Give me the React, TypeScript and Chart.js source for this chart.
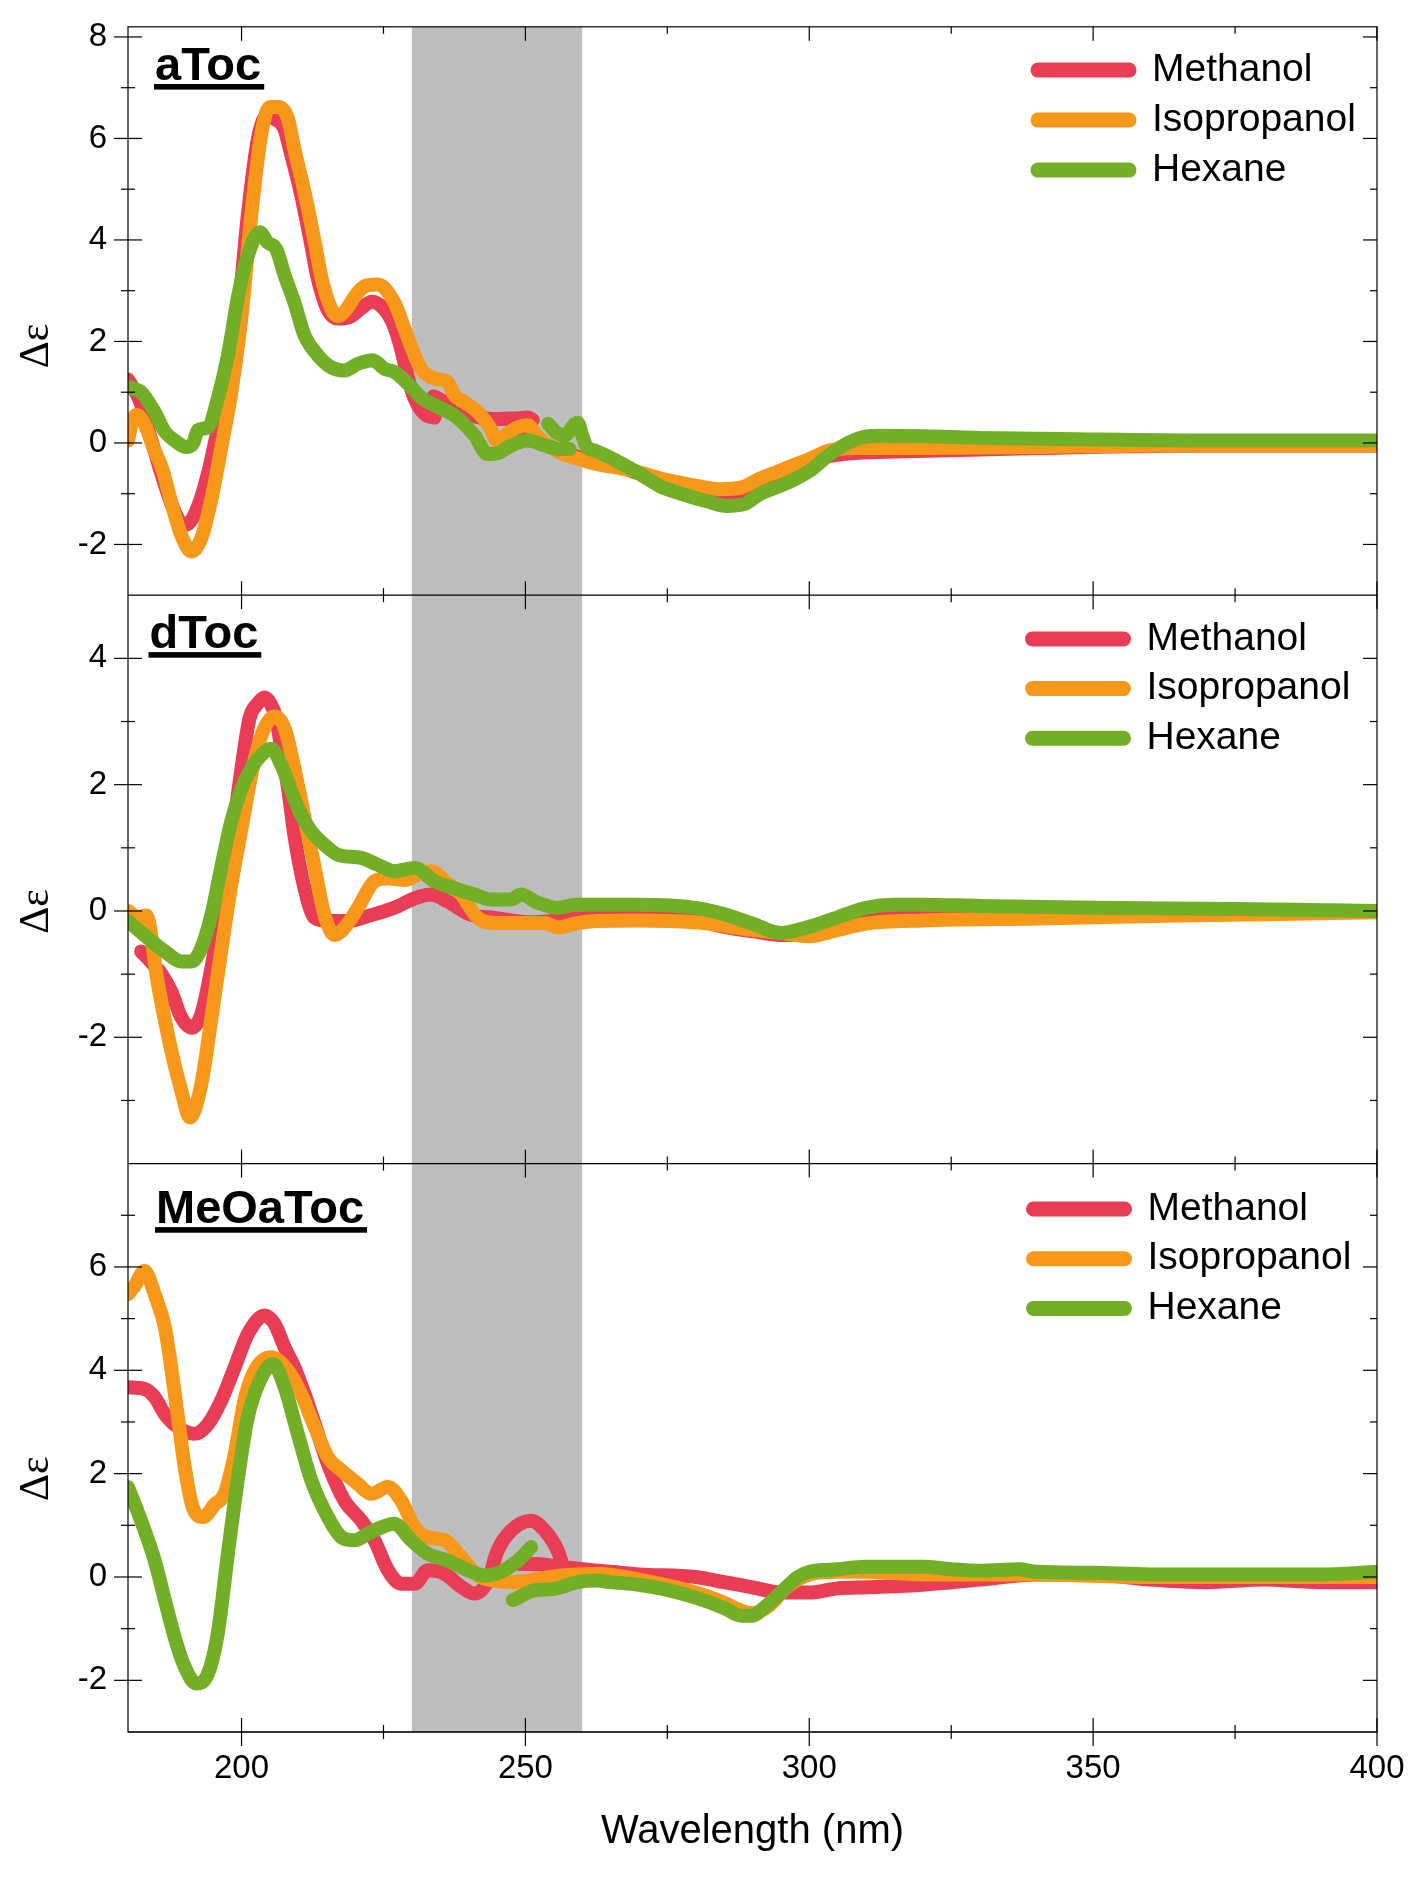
import React, { useEffect, useRef } from 'react';
import { Chart, registerables } from 'chart.js';

Chart.register(...registerables);

// ---------------- axes / labels ----------------
const xMin = 180;
const xMax = 400;
const xMajorTicks = [200, 250, 300, 350, 400];
const xMinorTicks = [225, 275, 325, 375];
const shadeRange = [230, 260];
const xTitle = 'Wavelength (nm)';
const yTitle = 'Δε';

const panelNames = ['aToc', 'dToc', 'MeOaToc'];
const panelAxisIds = ['yA', 'yD', 'yM'];
const panelYMin = [-3, -4, -3];
const panelYMax = [8.2, 5, 8];
const panelMajorTicks = [[8, 6, 4, 2, 0, -2], [4, 2, 0, -2], [6, 4, 2, 0, -2]];
const panelMinorTicks = [[7, 5, 3, 1, -1], [3, 1, -1, -3], [7, 5, 3, 1, -1]];

const solvents = ['Methanol', 'Isopropanol', 'Hexane'];
const solventColors = ['#E83D55', '#F7981A', '#72AF26'];

// ---------------- data: [wavelength nm, Δε] ----------------
// aToc
const aTocMethanolA = [[180,1.25],[182,0.85],[184,0.1],[186,-0.65],[188,-1.3],[189.8,-1.62],[191,-1.55],[192.5,-1.2],[194.2,-0.55],[196,0.35],[197.6,1.0],[199.4,2.5],[201.1,4.48],[202.9,6.0],[204.5,6.45],[205.6,6.4],[207.5,6.2],[208.6,5.75],[210.4,4.94],[212.2,3.95],[213.3,3.3],[215.1,2.64],[217,2.45],[219,2.48],[221,2.65],[223,2.78],[225,2.65],[226.5,2.4],[228,1.9],[229.5,1.2],[231,0.75],[232.5,0.55],[234,0.5]];
const aTocMethanolB = [[233.8,0.92],[236,0.8],[239,0.62],[242,0.5],[245,0.47],[248,0.48],[250.5,0.5],[251.3,0.45]];
const aTocMethanolC = [[248.5,0.2],[252,0.05],[256,-0.15],[260,-0.3],[262,-0.35],[266,-0.45],[270,-0.6],[274,-0.72],[279,-0.88],[283,-0.98],[287,-1.0],[290,-0.9],[293,-0.75],[296,-0.58],[299,-0.42],[302,-0.3],[306,-0.22],[312,-0.18],[322,-0.15],[340,-0.1],[370,-0.05],[400,-0.05]];
const aTocIsopropanol = [[180,0.05],[180.8,0.45],[181.6,0.55],[183,0.35],[184.5,-0.1],[186,-0.5],[187.6,-1.16],[189.4,-1.82],[191.2,-2.14],[192.9,-1.88],[194.7,-1.1],[196.4,-0.11],[198.2,1.0],[200,2.5],[201.7,4.48],[203.5,6.1],[205,6.62],[206.5,6.62],[208.2,6.38],[209.3,5.79],[211.1,4.94],[212.9,3.95],[214,3.3],[215.8,2.64],[217,2.5],[218.1,2.58],[220.5,2.97],[222,3.1],[224,3.12],[226.9,2.77],[228.7,2.25],[230.5,1.72],[231.6,1.46],[234,1.27],[236.3,1.2],[237.5,0.94],[239.3,0.8],[241.6,0.61],[243.5,0.35],[245.2,0.02],[246.5,0.15],[248.5,0.3],[250.4,0.35],[252,0.15],[254,-0.05],[256.3,-0.2],[259,-0.3],[262.7,-0.42],[266,-0.48],[270,-0.58],[273.7,-0.7],[279,-0.82],[284.3,-0.91],[288,-0.88],[291.4,-0.7],[294.3,-0.57],[297.2,-0.44],[300.2,-0.31],[303.1,-0.16],[306,-0.11],[309,-0.1],[320,-0.1],[340,-0.08],[360,-0.05],[400,-0.05]];
const aTocHexaneA = [[180,1.1],[182.3,1.0],[184.7,0.61],[186.5,0.22],[188.2,0.05],[190.3,-0.08],[191.5,0.0],[192.3,0.25],[194.1,0.31],[195.8,0.87],[197.6,1.72],[199.4,2.9],[201.1,3.69],[203.2,4.15],[204.6,3.95],[206.1,3.82],[207.6,3.3],[209.3,2.77],[211.1,2.12],[213.5,1.72],[215.8,1.49],[218.1,1.43],[220.5,1.56],[223.1,1.63],[225.2,1.46],[226.9,1.4],[229.3,1.17],[231.6,0.9],[234.6,0.71],[237.5,0.54],[241,0.15],[243.4,-0.22],[245.1,-0.2],[247.5,-0.05],[250.4,0.05],[253.4,-0.05],[256,-0.12],[257.8,-0.12]];
const aTocHexaneB = [[254,0.38],[255.5,0.2],[257,0.15],[258.5,0.35],[259.2,0.4],[260,0.15],[260.8,-0.08],[262,-0.14],[266,-0.35],[270,-0.6],[273.7,-0.85],[278,-1.02],[282,-1.15],[285.5,-1.24],[288.4,-1.21],[291.4,-1.0],[294.3,-0.87],[297.2,-0.73],[300.2,-0.54],[303.1,-0.27],[306,-0.05],[309,0.1],[312,0.14],[320,0.13],[330,0.1],[344,0.08],[370,0.05],[400,0.05]];

// dToc
const dTocMethanol = [[182.3,-0.64],[184,-0.8],[185.9,-1.0],[187.6,-1.27],[189.4,-1.69],[191.2,-1.85],[192.9,-1.64],[194.7,-0.9],[196.4,0.05],[198.2,1.1],[200,2.26],[201.4,3.05],[203,3.3],[204,3.38],[205,3.3],[206.1,3.05],[207,2.57],[208.2,1.94],[209.3,1.2],[211.1,0.36],[212.9,-0.11],[215.2,-0.16],[218.7,-0.16],[222.3,-0.08],[226.9,0.05],[230.5,0.2],[233.4,0.26],[236.3,0.15],[240.4,-0.06],[244.6,-0.11],[251,-0.18],[258.6,-0.12],[262,-0.1],[270,-0.1],[280,-0.15],[285,-0.25],[290,-0.32],[295,-0.38],[300,-0.35],[305,-0.2],[310,-0.1],[320,-0.06],[350,-0.05],[380,-0.03],[400,0.0]];
const dTocIsopropanol = [[180,0.0],[181.8,-0.1],[183.2,-0.07],[185.3,-1.17],[187.6,-2.2],[189.4,-2.85],[190.9,-3.27],[192.9,-2.75],[194.7,-1.69],[196.4,-0.64],[198.2,0.42],[200,1.31],[201.7,2.15],[203.5,2.78],[205.8,3.08],[207.6,2.89],[209.3,2.26],[211.1,1.47],[212.9,0.68],[214.6,-0.06],[216.4,-0.38],[218.1,-0.27],[220.5,0.05],[223.4,0.47],[225.8,0.52],[228.7,0.49],[231.6,0.6],[233.5,0.63],[235.8,0.47],[238.7,0.26],[241.6,-0.11],[244.6,-0.19],[250,-0.19],[253.4,-0.19],[255.7,-0.26],[259.2,-0.19],[262.7,-0.16],[270,-0.15],[280,-0.18],[290,-0.3],[295,-0.35],[300,-0.4],[305,-0.3],[310,-0.2],[320,-0.15],[340,-0.12],[360,-0.08],[380,-0.05],[400,-0.02]];
const dTocHexane = [[180,-0.16],[183.5,-0.43],[186.5,-0.64],[189.4,-0.8],[191.2,-0.8],[192.9,-0.59],[194.7,-0.06],[196.4,0.68],[198.2,1.42],[200,1.94],[201.7,2.26],[203.5,2.47],[205.2,2.57],[207,2.31],[208.8,1.89],[210.5,1.52],[212.3,1.26],[214.6,1.05],[217,0.89],[221.1,0.84],[224,0.73],[226.9,0.63],[230.5,0.68],[234,0.47],[237.5,0.36],[241,0.26],[244,0.18],[247.5,0.18],[249.2,0.26],[252.2,0.13],[255.7,0.05],[259,0.1],[263,0.1],[270,0.1],[280,0.05],[285,-0.05],[290,-0.2],[295,-0.35],[298,-0.3],[300,-0.25],[305,-0.1],[310,0.05],[315,0.1],[320,0.1],[330,0.08],[350,0.05],[375,0.03],[400,0.0]];

// MeOaToc
const meoMethanolA = [[180,3.67],[182.9,3.64],[184.7,3.48],[186.5,3.15],[188.8,2.9],[191.7,2.77],[194.1,2.96],[196.4,3.41],[198.8,4.06],[201.1,4.7],[204.1,5.06],[205.8,4.9],[207.6,4.44],[209.3,4.06],[211.1,3.54],[212.9,2.96],[215.2,2.19],[218.1,1.48],[221.1,1.09],[223.4,0.71],[225.8,0.13],[228.1,-0.13],[230.5,-0.13],[232.8,0.13],[235.8,0.06],[238.7,-0.19],[241,-0.32],[243.4,-0.07],[245.1,0.51],[247.5,0.9],[251,1.09],[253.4,0.9],[255.7,0.51],[256.3,0.32]];
const meoMethanolB = [[249,0.25],[252,0.25],[256,0.2],[260,0.15],[265,0.1],[270,0.05],[280,0.0],[285,-0.1],[290,-0.2],[295,-0.3],[300,-0.3],[305,-0.22],[310,-0.2],[320,-0.15],[330,-0.05],[340,0.05],[350,0.05],[360,-0.05],[370,-0.1],[380,-0.05],[390,-0.1],[400,-0.1]];
const meoIsopropanol = [[180,5.47],[181.2,5.64],[182.9,5.92],[184.7,5.47],[186.5,4.83],[187.6,4.06],[188.8,3.09],[190,2.12],[191.4,1.35],[193.2,1.16],[195.3,1.41],[197,1.61],[198.8,2.38],[200.5,3.41],[202.3,3.99],[205.2,4.25],[208.2,3.99],[210.5,3.54],[212.9,2.9],[215.2,2.32],[217.6,2.06],[220.5,1.8],[222.8,1.61],[225.8,1.74],[228.1,1.48],[230.5,0.96],[232.8,0.77],[235.8,0.71],[238.7,0.38],[241.6,0.03],[244.6,-0.07],[247.5,-0.1],[250.4,-0.07],[256.3,0.03],[262.7,0.06],[270,-0.05],[280,-0.3],[285,-0.5],[288,-0.65],[290,-0.7],[293,-0.55],[296,-0.2],[300,0.05],[305,0.1],[310,0.1],[320,0.05],[340,0.05],[360,0.0],[380,0.0],[400,0.0]];
const meoHexaneA = [[180,1.74],[182.3,1.09],[184.7,0.32],[186.5,-0.45],[188.2,-1.16],[190,-1.74],[192,-2.06],[194.1,-1.87],[195.8,-1.1],[197.6,0.45],[199.4,1.93],[201.1,3.09],[203.5,3.86],[205.5,4.12],[207.6,3.67],[209.9,2.77],[212.3,1.87],[215.2,1.16],[217.6,0.77],[219.9,0.71],[222.3,0.84],[224.6,0.96],[226.9,1.03],[229.9,0.71],[232.8,0.45],[236.3,0.32],[239.9,0.13],[242.8,0.03],[245.7,0.1],[248.7,0.32],[251,0.58]];
const meoHexaneB = [[247.8,-0.45],[251.6,-0.26],[255.1,-0.23],[259.2,-0.1],[262.7,-0.07],[265,-0.1],[270,-0.15],[275,-0.25],[280,-0.4],[285,-0.6],[288,-0.75],[290,-0.75],[292,-0.6],[295,-0.3],[298,0.0],[300,0.1],[305,0.15],[310,0.2],[315,0.2],[320,0.2],[325,0.15],[330,0.12],[337,0.15],[340,0.1],[350,0.08],[360,0.05],[370,0.05],[380,0.05],[390,0.05],[400,0.1]];

// which panel / solvent each stretch of data belongs to
const seriesList = [
  { panel: 0, solvent: 0, points: aTocMethanolA },
  { panel: 0, solvent: 0, points: aTocMethanolB },
  { panel: 0, solvent: 0, points: aTocMethanolC },
  { panel: 0, solvent: 1, points: aTocIsopropanol },
  { panel: 0, solvent: 2, points: aTocHexaneA },
  { panel: 0, solvent: 2, points: aTocHexaneB },
  { panel: 1, solvent: 0, points: dTocMethanol },
  { panel: 1, solvent: 1, points: dTocIsopropanol },
  { panel: 1, solvent: 2, points: dTocHexane },
  { panel: 2, solvent: 0, points: meoMethanolA },
  { panel: 2, solvent: 0, points: meoMethanolB },
  { panel: 2, solvent: 1, points: meoIsopropanol },
  { panel: 2, solvent: 2, points: meoHexaneA },
  { panel: 2, solvent: 2, points: meoHexaneB },
];

// ---------------- layout / style ----------------
const W = 1419;
const H = 1881;
const PLOT_LEFT = 128;
const PAD_RIGHT = 42;
const PAD_TOP = 24;
const X_AXIS_H = 149;
const FONT = '"Liberation Sans", Arial, Helvetica, sans-serif';
const SERIF = '"Liberation Serif", "Times New Roman", serif';
const LINE_W = 14;
const MAJOR_LEN = 14;
const MINOR_LEN = 7;

const labelStyle = [
  { x: 155, baseFromTop: 52.7 },
  { x: 149.5, baseFromTop: 52.4 },
  { x: 156, baseFromTop: 59 },
];
const legendStyle = [
  { textX: 1152, row0FromTop: 43.3, gap: 50 },
  { textX: 1146.5, row0FromTop: 43.7, gap: 49.7 },
  { textX: 1147.5, row0FromTop: 45.4, gap: 49.7 },
];
const yTitleOffset = [35, 32, 31];

const decorPlugin = {
  id: 'decor',
  beforeDatasetsDraw(chart: any) {
    const { ctx, chartArea: a, scales } = chart;
    const xs = scales.x;
    const x0 = xs.getPixelForValue(shadeRange[0]);
    const x1 = xs.getPixelForValue(shadeRange[1]);
    ctx.save();
    ctx.fillStyle = '#BEBEBE';
    ctx.fillRect(x0, a.top, x1 - x0, a.bottom - a.top);
    ctx.restore();
  },
  afterDraw(chart: any) {
    const { ctx, chartArea: a, scales } = chart;
    const xs = scales.x;
    const L = a.left;
    const R = a.right;
    const seg = (x1: number, y1: number, x2: number, y2: number) => {
      ctx.beginPath();
      ctx.moveTo(x1, y1);
      ctx.lineTo(x2, y2);
      ctx.stroke();
    };
    ctx.save();
    ctx.strokeStyle = '#000';
    ctx.lineWidth = 1.2;
    ctx.lineCap = 'butt';
    ctx.strokeRect(L, a.top, R - L, a.bottom - a.top);

    panelAxisIds.forEach((id, i) => {
      const s = scales[id];
      seg(L, s.bottom, R, s.bottom);
      panelMajorTicks[i].forEach((v) => {
        const y = s.getPixelForValue(v);
        seg(L - MAJOR_LEN, y, L + MAJOR_LEN, y);
        seg(R - MAJOR_LEN, y, R, y);
      });
      panelMinorTicks[i].forEach((v) => {
        const y = s.getPixelForValue(v);
        seg(L - MINOR_LEN, y, L + MINOR_LEN, y);
        seg(R - MINOR_LEN, y, R, y);
      });
      const yTop = s.top;
      const yBot = s.bottom;
      xMajorTicks.forEach((v) => {
        const x = xs.getPixelForValue(v);
        if (i === 0) seg(x, yTop, x, yTop + MAJOR_LEN);
        seg(x, yBot - MAJOR_LEN, x, yBot + MAJOR_LEN);
      });
      xMinorTicks.forEach((v) => {
        const x = xs.getPixelForValue(v);
        if (i === 0) seg(x, yTop, x, yTop + MINOR_LEN);
        seg(x, yBot - MINOR_LEN, x, yBot + MINOR_LEN);
      });

      // y title
      ctx.save();
      ctx.fillStyle = '#000';
      ctx.font = `42px ${SERIF}`;
      ctx.textAlign = 'center';
      ctx.textBaseline = 'middle';
      ctx.translate(37, (s.top + s.bottom) / 2 + yTitleOffset[i]);
      ctx.rotate(-Math.PI / 2);
      ctx.fillText(yTitle, 0, 0);
      ctx.restore();

      // panel name
      const ls = labelStyle[i];
      const base = s.top + ls.baseFromTop;
      ctx.fillStyle = '#000';
      ctx.font = `bold 47px ${FONT}`;
      ctx.textAlign = 'left';
      ctx.textBaseline = 'alphabetic';
      ctx.fillText(panelNames[i], ls.x, base);
      const tw = ctx.measureText(panelNames[i]).width;
      ctx.fillRect(ls.x - 1, base + 4.5, tw + 4, 5.6);

      // legend
      const lg = legendStyle[i];
      solvents.forEach((name, k) => {
        const y = s.top + lg.row0FromTop + k * lg.gap;
        ctx.save();
        ctx.strokeStyle = solventColors[k];
        ctx.lineWidth = 15;
        ctx.lineCap = 'round';
        seg(lg.textX - 114, y, lg.textX - 23, y);
        ctx.restore();
        ctx.fillStyle = '#000';
        ctx.font = `39px ${FONT}`;
        ctx.textAlign = 'left';
        ctx.textBaseline = 'middle';
        ctx.fillText(name, lg.textX, y);
      });
    });
    ctx.restore();
  },
};

function buildConfig(): any {
  const hiddenGrid = {
    display: true,
    drawOnChartArea: false,
    drawTicks: true,
    tickLength: MAJOR_LEN,
    color: 'rgba(0,0,0,0)',
  };
  const tickFont = { family: FONT, size: 33 };
  const scales: any = {
    x: {
      type: 'linear',
      position: 'bottom',
      min: xMin,
      max: xMax,
      afterBuildTicks: (s: any) => {
        s.ticks = xMajorTicks.map((v) => ({ value: v }));
      },
      afterFit: (s: any) => {
        s.height = X_AXIS_H;
      },
      grid: hiddenGrid,
      border: { display: false },
      ticks: { color: '#000', font: tickFont, padding: 3, maxRotation: 0, autoSkip: false },
      title: {
        display: true,
        text: xTitle,
        color: '#000',
        font: { family: FONT, size: 40 },
        padding: { top: 0, bottom: 25 },
      },
    },
  };
  // stacked scales are laid out bottom-up in definition order, so add the bottom panel first
  [...panelAxisIds.keys()].reverse().forEach((i) => {
    const id = panelAxisIds[i];
    scales[id] = {
      type: 'linear',
      position: 'left',
      stack: 'panels',
      stackWeight: 1,
      min: panelYMin[i],
      max: panelYMax[i],
      afterBuildTicks: (s: any) => {
        s.ticks = [...panelMajorTicks[i]].sort((p, q) => p - q).map((v) => ({ value: v }));
      },
      afterFit: (s: any) => {
        s.width = PLOT_LEFT;
      },
      grid: hiddenGrid,
      border: { display: false },
      ticks: { color: '#000', font: tickFont, padding: 7 },
    };
  });

  const datasets = seriesList.map((sr) => ({
    label: solvents[sr.solvent],
    data: sr.points.map(([x, y]) => ({ x, y })),
    yAxisID: panelAxisIds[sr.panel],
    borderColor: solventColors[sr.solvent],
    backgroundColor: solventColors[sr.solvent],
    borderWidth: LINE_W,
    borderCapStyle: 'round',
    borderJoinStyle: 'round',
    cubicInterpolationMode: 'monotone',
    pointRadius: 0,
    pointHoverRadius: 0,
    fill: false,
    clip: 0,
    order: 2 - sr.solvent,
  }));

  return {
    type: 'line',
    data: { datasets },
    options: {
      responsive: false,
      maintainAspectRatio: false,
      devicePixelRatio: 1,
      animation: false,
      events: [],
      layout: { padding: { left: 0, right: PAD_RIGHT, top: PAD_TOP, bottom: 0 } },
      plugins: { legend: { display: false }, tooltip: { enabled: false }, title: { display: false } },
      scales,
    },
    plugins: [decorPlugin],
  };
}

export default function App() {
  const ref = useRef<HTMLCanvasElement | null>(null);
  useEffect(() => {
    if (!ref.current) return;
    const chart = new Chart(ref.current, buildConfig());
    return () => chart.destroy();
  }, []);
  return (
    <div style={{ position: 'absolute', left: 0, top: 0, width: W, height: H, background: '#fff' }}>
      <canvas ref={ref} width={W} height={H} style={{ display: 'block', width: W, height: H }} />
    </div>
  );
}
